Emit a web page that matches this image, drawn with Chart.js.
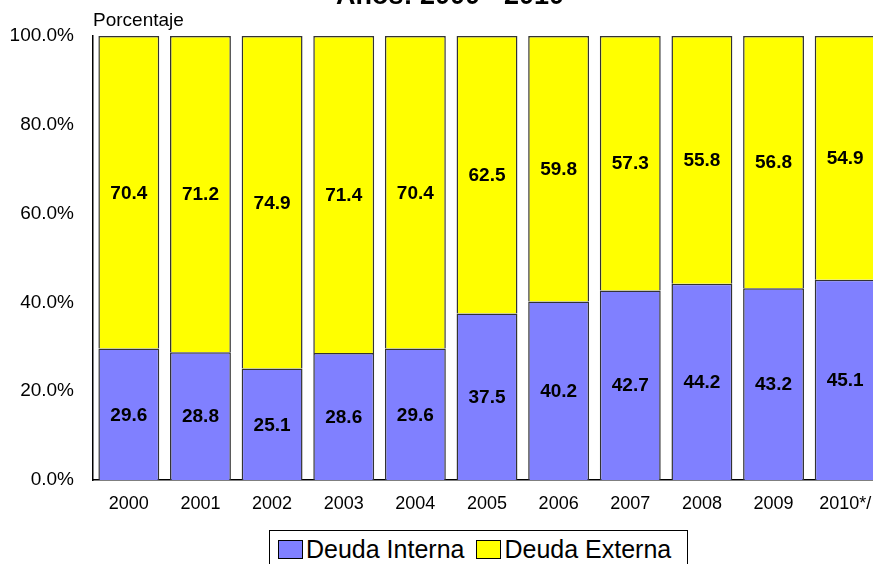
<!DOCTYPE html>
<html lang="es">
<head>
    <meta charset="UTF-8">
    <title>Deuda Interna / Externa</title>
    <style>
        html, body { margin: 0; padding: 0; background: #fff; overflow: hidden; }
        #wrap { position: absolute; left: 0; top: 0; width: 920px; height: 520px; }
        #legend {
            position: absolute; left: 269px; top: 530px; width: 419px; height: 44px;
            border: 1px solid #000; box-sizing: border-box;
            display: flex; align-items: flex-start; padding: 4px 0 0 8px;
            font-family: "Liberation Sans", Arial, sans-serif; font-size: 25px; color: #000;
        }
        #legend .item { display: flex; align-items: center; margin-right: 12px; }
        #legend .swatch { width: 25px; height: 19px; border: 1px solid #000; box-sizing: border-box; margin-right: 3px; }
    </style>
</head>
<body>
    <div id="wrap"><canvas id="chart"></canvas></div>
    <div id="legend"></div>

    <script src="https://cdn.jsdelivr.net/npm/chart.js"></script>
    <script>
        // data
        const years = ['2000', '2001', '2002', '2003', '2004', '2005', '2006', '2007', '2008', '2009', '2010*/'];
        const deudaInterna = [29.6, 28.8, 25.1, 28.6, 29.6, 37.5, 40.2, 42.7, 44.2, 43.2, 45.1];
        const deudaExterna = [70.4, 71.2, 74.9, 71.4, 70.4, 62.5, 59.8, 57.3, 55.8, 56.8, 54.9];
        const yTicks = [0, 20, 40, 60, 80, 100];

        const FONT = '"Liberation Sans", Arial, sans-serif';

        // values in the middle of each segment
        const segmentLabels = {
            id: 'segmentLabels',
            afterDatasetsDraw(chart) {
                const ctx = chart.ctx;
                ctx.save();
                ctx.font = 'bold 19px ' + FONT;
                ctx.fillStyle = '#000';
                ctx.textAlign = 'center';
                ctx.textBaseline = 'middle';
                chart.data.datasets.forEach((ds, i) => {
                    chart.getDatasetMeta(i).data.forEach((bar, j) => {
                        const p = bar.getCenterPoint();
                        ctx.fillText(ds.data[j].toFixed(1), p.x, p.y + 1);
                    });
                });
                ctx.restore();
            }
        };

        // clipped title and the "Porcentaje" axis caption
        const headings = {
            id: 'headings',
            afterDraw(chart) {
                const ctx = chart.ctx;
                const area = chart.chartArea;
                ctx.save();
                ctx.fillStyle = '#000';
                ctx.textBaseline = 'alphabetic';
                ctx.textAlign = 'center';
                ctx.font = 'bold 27px ' + FONT;
                ctx.fillText('Años: 2000 - 2010', 450, 4);
                ctx.textAlign = 'left';
                ctx.font = '19px ' + FONT;
                ctx.fillText('Porcentaje', area.left, area.top - 10);
                ctx.restore();
            }
        };

        const ctx = document.getElementById('chart').getContext('2d');
        const chart = new Chart(ctx, {
            type: 'bar',
            data: {
                labels: years,
                datasets: [{
                    label: 'Deuda Interna',
                    data: deudaInterna,
                    backgroundColor: '#8080FF',
                    borderColor: '#333333',
                    borderWidth: 1.5
                }, {
                    label: 'Deuda Externa',
                    data: deudaExterna,
                    backgroundColor: '#FFFF00',
                    borderColor: '#333333',
                    borderWidth: 1.5
                }]
            },
            options: {
                responsive: true,
                maintainAspectRatio: false,
                animation: false,
                layout: { padding: { top: 36, right: 39, left: 0, bottom: 0 } },
                datasets: { bar: { barPercentage: 0.85, categoryPercentage: 1 } },
                plugins: {
                    legend: { display: false },
                    tooltip: { enabled: false }
                },
                scales: {
                    x: {
                        stacked: true,
                        grid: { display: false, drawTicks: false },
                        border: { display: true, color: '#000', width: 1.5 },
                        ticks: { color: '#000', font: { family: FONT, size: 18 }, padding: 13, maxRotation: 0 },
                        afterFit(scale) { scale.height = 40; }
                    },
                    y: {
                        stacked: true,
                        min: 0,
                        max: 100,
                        grid: { display: false, drawTicks: false },
                        border: { display: true, color: '#000', width: 1.5 },
                        afterBuildTicks(scale) { scale.ticks = yTicks.map(v => ({ value: v })); },
                        ticks: {
                            color: '#000',
                            font: { family: FONT, size: 19 },
                            padding: 19,
                            callback: v => v.toFixed(1) + '%'
                        },
                        afterFit(scale) { scale.width = 93; }
                    }
                }
            },
            plugins: [segmentLabels, headings]
        });

        // legend box built from the datasets
        const legend = document.getElementById('legend');
        chart.data.datasets.forEach(ds => {
            const item = document.createElement('div');
            item.className = 'item';
            const sw = document.createElement('span');
            sw.className = 'swatch';
            sw.style.background = ds.backgroundColor;
            item.appendChild(sw);
            item.appendChild(document.createTextNode(ds.label));
            legend.appendChild(item);
        });
    </script>
</body>
</html>
